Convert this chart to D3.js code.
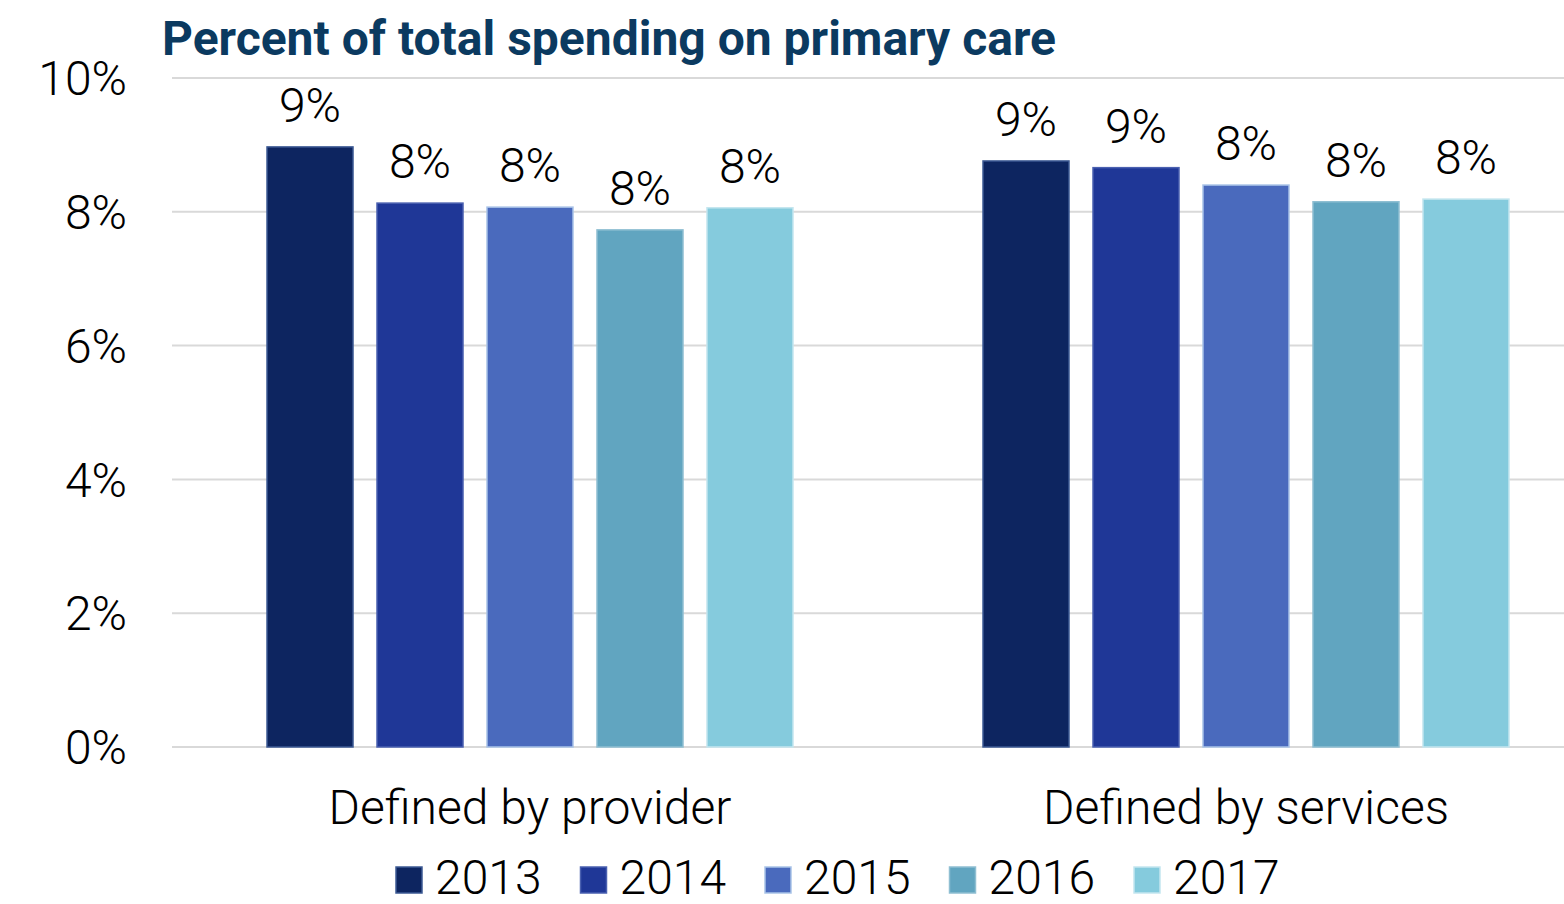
<!DOCTYPE html>
<html>
<head>
<meta charset="utf-8">
<script src="https://cdn.jsdelivr.net/npm/d3@7"></script>
<style>
  body { margin: 0; background: #fff; }
  svg { font-family: Roboto, "Noto Sans", sans-serif; }
</style>
</head>
<body>
<svg id="chart" width="1564" height="904"></svg>
<script>
const categories = ["Defined by provider", "Defined by services"];
const years = ["2013", "2014", "2015", "2016", "2017"];
const values = {
  "Defined by provider": [8.97, 8.13, 8.07, 7.73, 8.06],
  "Defined by services": [8.76, 8.66, 8.40, 8.15, 8.19]
};
const yTicks = [0, 2, 4, 6, 8, 10];
const colors = ["#0d2560", "#1f3797", "#4a6abd", "#61a5c0", "#85cbdd"];
const borders = ["#3d5a94", "#4a60b0", "#a9c3e8", "#8fbfd2", "#c4e6ef"];

const svg = d3.select("#chart");
const margin = { left: 172, right: -40, top: 78, bottom: 157 };
const width = +svg.attr("width");
const height = +svg.attr("height");

const x = d3.scaleBand()
  .domain(categories)
  .range([margin.left, width - margin.right]);

const x1 = d3.scaleBand()
  .domain(years)
  .range([95, x.bandwidth() - 95])
  .paddingInner(0.218);

const y = d3.scaleLinear()
  .domain([0, 10])
  .range([height - margin.bottom, margin.top]);

// gridlines
svg.append("g")
  .selectAll("line")
  .data(yTicks)
  .enter()
  .append("line")
  .attr("x1", margin.left)
  .attr("x2", width)
  .attr("y1", d => y(d))
  .attr("y2", d => y(d))
  .attr("stroke", "#d9d9d9")
  .attr("stroke-width", 2);

// y tick labels
svg.append("g")
  .selectAll("text")
  .data(yTicks)
  .enter()
  .append("text")
  .attr("x", 127)
  .attr("y", d => y(d))
  .attr("dy", "0.36em")
  .attr("text-anchor", "end")
  .style("font-size", "48px")
  .style("font-weight", 300)
  .style("fill", "#000")
  .text(d => d + "%");

// bars
const group = svg.append("g")
  .selectAll("g")
  .data(categories)
  .enter()
  .append("g")
  .attr("transform", d => `translate(${x(d)},0)`);

group.selectAll("rect")
  .data(c => values[c].map((v, i) => ({ year: years[i], value: v, i: i })))
  .enter()
  .append("rect")
  .attr("x", d => x1(d.year))
  .attr("width", x1.bandwidth())
  .attr("y", d => y(d.value))
  .attr("height", d => y(0) - y(d.value))
  .attr("fill", d => colors[d.i])
  .attr("stroke", d => borders[d.i])
  .attr("stroke-width", 1.5);

group.selectAll("text")
  .data(c => values[c].map((v, i) => ({ year: years[i], value: v })))
  .enter()
  .append("text")
  .attr("x", d => x1(d.year) + x1.bandwidth() / 2)
  .attr("y", d => y(d.value) - 25)
  .attr("text-anchor", "middle")
  .style("font-size", "48px")
  .style("font-weight", 300)
  .text(d => Math.round(d.value) + "%");

// category labels
svg.append("g")
  .selectAll("text")
  .data(categories)
  .enter()
  .append("text")
  .attr("x", d => x(d) + x.bandwidth() / 2)
  .attr("y", 824)
  .attr("text-anchor", "middle")
  .style("font-size", "48px")
  .style("font-weight", 300)
  .text(d => d);

// legend
const legend = svg.append("g")
  .selectAll("g")
  .data(years)
  .enter()
  .append("g")
  .attr("transform", (d, i) => `translate(${396 + i * 184.5},867)`);

legend.append("rect")
  .attr("width", 26)
  .attr("height", 26)
  .attr("fill", (d, i) => colors[i])
  .attr("stroke", (d, i) => borders[i])
  .attr("stroke-width", 1.5);

legend.append("text")
  .attr("x", 39)
  .attr("y", 27)
  .style("font-size", "48px")
  .style("font-weight", 300)
  .text(d => d);

// title
svg.append("text")
  .attr("x", 162)
  .attr("y", 55)
  .style("font-size", "48px")
  .style("font-weight", 700)
  .style("fill", "#0b3a60")
  .text("Percent of total spending on primary care");
</script>
</body>
</html>
